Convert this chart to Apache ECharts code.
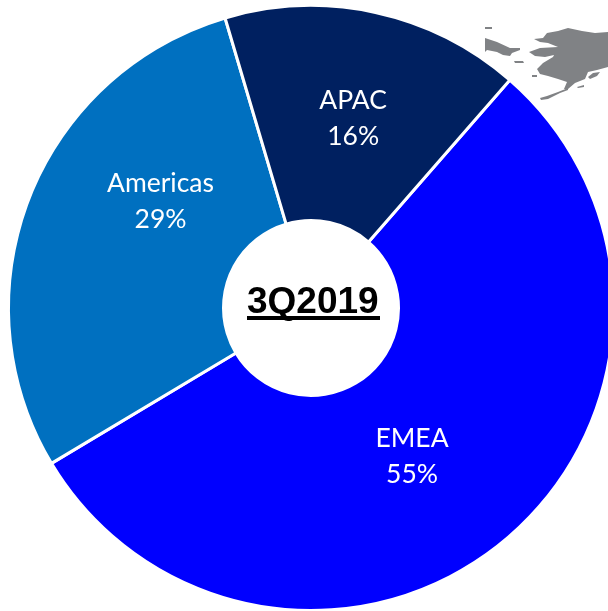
<!DOCTYPE html>
<html>
<head>
<meta charset="utf-8">
<style>html,body{margin:0;padding:0;background:#fff}#c{width:608px;height:611px}</style>
<script src="https://cdn.jsdelivr.net/npm/echarts@6/dist/echarts.min.js"></script>
</head>
<body>
<div id="c"></div>
<script>
// Revenue share by region for the quarter
const quarter = '3Q2019';
const regions = ['EMEA', 'Americas', 'APAC'];
const shares = [55, 29, 16];
const regionColors = ['#0000FF', '#0070C0', '#002060'];
const labelOffsets = [[-26, -3], [34, -35], [0, 4]];

// Outline of the map fragment behind the ring, in page pixels
const landMain = [[534,39],[543,38],[547,33],[558,31],[568,28],[582,31],[595,33],[608,32],[608,67],[597,70],[588,72],[585,79],[575,83],[568,89],[564,89],[567,82],[558,79],[548,76],[540,74],[537,69],[543,63],[553,57],[554,55],[545,57],[535,56],[529,52],[540,48],[558,47],[548,43],[540,42]];
const landWest = [[485,38],[497,42],[510,48],[520,48],[520,50],[512,53],[510,56],[503,55],[497,52],[487,50],[485,52]];
const landSpecks = [
  [[485,27],[492,27],[492,29],[485,29]],
  [[514,61],[523,61],[524,63],[515,63]],
  [[532,75],[537,75],[537,77],[532,77]],
  [[588,77],[593,73],[600,72],[597,76],[590,79]],
  [[577,87],[584,85],[584,87],[578,88]],
  [[540,98],[547,96],[558,92],[568,88],[568,90],[560,93],[548,99],[541,100]]
];

const chart = echarts.init(document.getElementById('c'), null, { renderer: 'canvas' });
const landShapes = [landMain, landWest].concat(landSpecks).map(points => ({
  type: 'polygon',
  shape: { points },
  style: { fill: '#808285' },
  silent: true,
  z: 0
}));

chart.setOption({
  animation: false,
  backgroundColor: '#fff',
  graphic: landShapes.concat([
    {
      type: 'text',
      left: 247,
      top: 284,
      z: 10,
      style: { text: quarter, font: 'bold 37px "Liberation Sans"', fill: '#000' }
    },
    {
      type: 'rect',
      shape: { x: 247, y: 316, width: 133, height: 4 },
      style: { fill: '#000' },
      z: 10
    }
  ]),
  series: [{
    type: 'pie',
    center: [311, 308],
    radius: [87.5, 302.5],
    startAngle: 48.9,
    clockwise: true,
    silent: true,
    itemStyle: { borderColor: '#fff', borderWidth: 3 },
    label: {
      position: 'inside',
      formatter: '{b}\n{c}%',
      color: '#fff',
      fontFamily: 'Lato',
      fontSize: 26.5,
      lineHeight: 36
    },
    labelLine: { show: false },
    data: regions.map((name, i) => ({
      name,
      value: shares[i],
      itemStyle: { color: regionColors[i] },
      label: { offset: labelOffsets[i] }
    }))
  }]
});
</script>
</body>
</html>
